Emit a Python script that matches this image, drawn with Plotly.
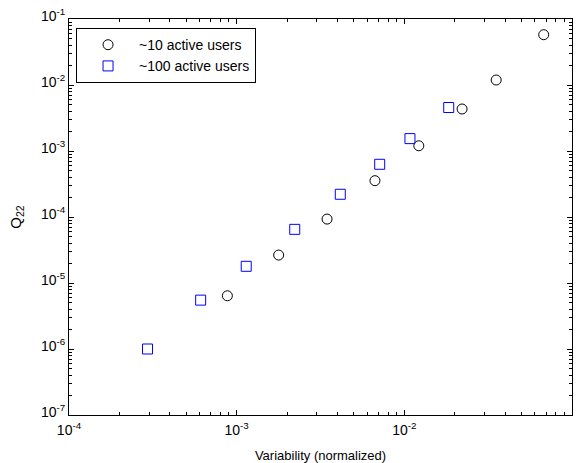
import plotly.graph_objects as go

# ~10 active users (circles)
x10 = [8.8e-4, 1.78e-3, 3.46e-3, 6.68e-3, 1.22e-2, 2.21e-2, 3.53e-2, 6.78e-2]
y10 = [6.4e-6, 2.65e-5, 9.3e-5, 3.55e-4, 1.2e-3, 4.33e-3, 1.19e-2, 5.78e-2]

# ~100 active users (squares)
x100 = [2.94e-4, 6.1e-4, 1.14e-3, 2.22e-3, 4.15e-3, 7.13e-3, 1.08e-2, 1.84e-2]
y100 = [1.0e-6, 5.5e-6, 1.79e-5, 6.5e-5, 2.21e-4, 6.29e-4, 1.54e-3, 4.56e-3]

x_exps = [-4, -3, -2, -1]
y_exps = [-7, -6, -5, -4, -3, -2, -1]

font = "Liberation Sans, Arial, sans-serif"

fig = go.Figure()
fig.add_trace(go.Scatter(
    x=x10, y=y10, mode="markers", name="~10 active users",
    marker=dict(symbol="circle-open", size=10, color="black", line=dict(width=1)),
))
fig.add_trace(go.Scatter(
    x=x100, y=y100, mode="markers", name="~100 active users",
    marker=dict(symbol="square-open", size=10, color="blue", line=dict(width=1)),
))

def minor_vals(exps):
    vals = []
    for e in exps[:-1]:
        for k in range(2, 10):
            vals.append(k * 10.0 ** e)
    return vals

axis_common = dict(
    type="log",
    automargin=False,
    showgrid=False,
    zeroline=False,
    showline=True,
    linecolor="black",
    linewidth=1,
    mirror="allticks",
    ticks="inside",
    ticklen=5,
    tickcolor="black",
    tickfont=dict(family=font, size=14, color="black"),
)

fig.update_xaxes(
    **axis_common,
    range=[-4, -1],
    tickvals=[10.0 ** e for e in x_exps],
    ticktext=[f"10<sup>{e}</sup>" for e in x_exps],
    ticklabelstandoff=2,
    minor=dict(tickvals=minor_vals(x_exps), ticks="inside", ticklen=3, tickcolor="black", showgrid=False),
    title=dict(text="Variability (normalized)", font=dict(family=font, size=13, color="black")),
)
fig.update_yaxes(
    **axis_common,
    range=[-7, -1],
    tickvals=[10.0 ** e for e in y_exps],
    ticktext=[f"10<sup>{e}</sup>" for e in y_exps],
    ticklabelshift=-3,
    minor=dict(tickvals=minor_vals(y_exps), ticks="inside", ticklen=3, tickcolor="black", showgrid=False),
    title=dict(text="Q<sub>22</sub>", font=dict(family=font, size=15, color="black")),
)

fig.update_layout(
    width=584, height=463,
    margin=dict(l=69, r=12, t=19, b=48),
    paper_bgcolor="white", plot_bgcolor="white",
    font=dict(family=font, size=12, color="black"),
    showlegend=True,
    legend=dict(
        x=0.014, y=0.977, xanchor="left", yanchor="top",
        bordercolor="black", borderwidth=1, bgcolor="white",
        font=dict(family=font, size=14, color="black"),
        itemwidth=52,
        tracegroupgap=0,
    ),
)

fig.write_html(
    "out.html",
    config={"displayModeBar": False},
    post_script="document.body.style.margin='0';document.body.style.overflow='hidden';",
)
